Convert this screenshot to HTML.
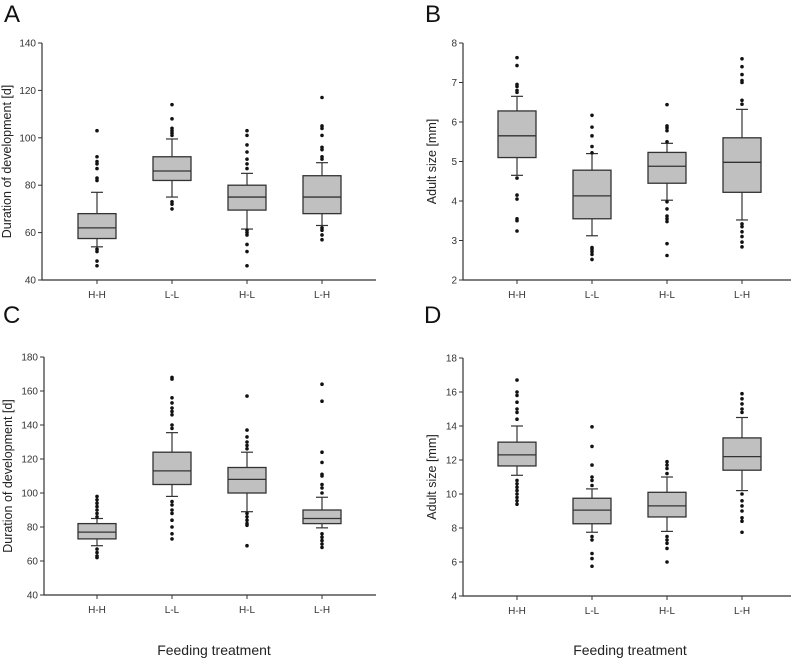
<!DOCTYPE html>
<html><head><meta charset="utf-8">
<style>
body{margin:0;background:#fff;}
svg{display:block;font-family:"Liberation Sans",Arial,sans-serif;}
</style></head>
<body>
<svg id="fig" width="796" height="663" viewBox="0 0 796 663" xmlns="http://www.w3.org/2000/svg">
<text x="4" y="22" font-size="24" fill="#111">A</text>
<text x="425" y="22" font-size="24" fill="#111">B</text>
<text x="3" y="323" font-size="24" fill="#111">C</text>
<text x="424" y="323" font-size="24" fill="#111">D</text>
<text x="214" y="655" font-size="14" text-anchor="middle" fill="#222">Feeding treatment</text>
<text x="630" y="655" font-size="14" text-anchor="middle" fill="#222">Feeding treatment</text>
</svg>
<script>
const categories = ["H-H","L-L","H-L","L-H"];
// [lowWhisker, q1, median, q3, highWhisker]
const statsA = [[54,57.5,62,68,77],[75,82,86,92,99.5],[61.5,69.5,75,80,85],[63,68,75,84,89.5]];
const outliersA = [[46,48,52,53,82,83,87,89,90,92,103],[70,72,73,101,102,103,104,108,114],[46,52,55,59,60,61,87,89,91,94,97,101,103],[57,59,61,62,91,92,95,96,101,104,105,117]];
const ticksA = [40,60,80,100,120,140];
const statsB = [[4.65,5.1,5.65,6.28,6.65],[3.12,3.55,4.13,4.78,5.2],[4.02,4.45,4.88,5.23,5.46],[3.52,4.22,4.98,5.6,6.32]];
const outliersB = [[3.24,3.5,3.55,4.05,4.15,4.58,6.75,6.8,6.9,6.95,7.43,7.63],[2.52,2.65,2.72,2.78,2.82,5.22,5.38,5.65,5.87,6.17],[2.62,2.92,3.48,3.55,3.62,3.8,3.98,5.5,5.78,5.85,5.9,6.44],[2.84,2.96,3.1,3.22,3.35,3.42,6.45,6.55,7.0,7.05,7.2,7.4,7.6]];
const ticksB = [2,3,4,5,6,7,8];
const statsC = [[69,73,77,82,85],[98,105,113,124,135.5],[89,100,108,115,124],[79.5,82,85,90,97.5]];
const outliersC = [[62,63,65,67,86,88,90,92,94,96,98],[73,76,80,84,88,90,93,95,138,140,146,148,150,153,156,167,168],[69,81,82,84,86,88,126,128,130,133,137,157],[68,70,72,74,76,100,103,105,110,111,118,124,154,164]];
const ticksC = [40,60,80,100,120,140,160,180];
const statsD = [[11.1,11.65,12.3,13.05,14.0],[7.75,8.25,9.05,9.75,10.3],[7.8,8.65,9.3,10.1,11.0],[10.2,11.4,12.2,13.3,14.5]];
const outliersD = [[9.4,9.6,9.8,10,10.2,10.4,10.6,10.8,14.4,14.8,15,15.4,15.8,16,16.7],[5.75,6.2,6.5,7.3,7.5,10.5,10.8,11,11.7,12.8,13.95],[6.0,6.8,7.1,7.3,7.5,11.2,11.5,11.7,11.9],[7.75,8.4,8.6,9.0,9.3,9.6,10,14.8,15,15.3,15.6,15.9]];
const ticksD = [4,6,8,10,12,14,16,18];

const NS="http://www.w3.org/2000/svg";
const svg=document.getElementById('fig');
function mk(tag,attrs,parent){const e=document.createElementNS(NS,tag);for(const k in attrs)e.setAttribute(k,attrs[k]);(parent||svg).appendChild(e);return e;}

function panel(id,x0,x1,yt,yb,firstCat,stats,outs,ticks,title,titleX){
  const g=mk('g',{});
  
  
  const lo=ticks[0],hi=ticks[ticks.length-1];
  const y=v=>yb-(v-lo)/(hi-lo)*(yb-yt);
  const xOf=i=>firstCat+i*75;
  const ax=mk('path',{d:`M${x0} ${yt}V${yb}H${x1}`,stroke:'#333','stroke-width':1.2,fill:'none'},g);
  
  
  ticks.forEach(t=>{
    mk('line',{x1:x0-4,x2:x0,y1:y(t),y2:y(t),stroke:'#333'},g);
    const tx=mk('text',{x:x0-6,y:y(t)+3.5,'font-size':10,'text-anchor':'end',fill:'#333'},g);
    tx.textContent=t;
    
    
  });
  const tt=mk('text',{transform:`translate(${titleX},${(yt+yb)/2}) rotate(-90)`,'font-size':12.5,'text-anchor':'middle',fill:'#222'},g);
  tt.textContent=title;
  
  
  categories.forEach((c,i)=>{
    const cx=xOf(i);
    mk('line',{x1:cx,x2:cx,y1:yb,y2:yb+4,stroke:'#333'},g);
    const lt=mk('text',{x:cx,y:yb+18,'font-size':10,'text-anchor':'middle',fill:'#333'},g);
    lt.textContent=c;
    
    
    const s=stats[i];
    mk('line',{x1:cx,x2:cx,y1:y(s[0]),y2:y(s[1]),stroke:'#333','stroke-width':1.2},g);
    mk('line',{x1:cx,x2:cx,y1:y(s[3]),y2:y(s[4]),stroke:'#333','stroke-width':1.2},g);
    mk('line',{x1:cx-6,x2:cx+6,y1:y(s[0]),y2:y(s[0]),stroke:'#333','stroke-width':1.2},g);
    mk('line',{x1:cx-6,x2:cx+6,y1:y(s[4]),y2:y(s[4]),stroke:'#333','stroke-width':1.2},g);
    const box=mk('rect',{x:cx-19,y:y(s[3]),width:38,height:y(s[1])-y(s[3]),fill:'#c0c0c0',stroke:'#333','stroke-width':1.3},g);
    
    
    mk('line',{x1:cx-19,x2:cx+19,y1:y(s[2]),y2:y(s[2]),stroke:'#333','stroke-width':1.3},g);
    outs[i].forEach(v=>{
      const d=mk('circle',{cx:cx,cy:y(v),r:1.8,fill:'#111'},g);
      
      
    });
  });
}
panel('a',42,376,43,280,97,statsA,outliersA,ticksA,'Duration of development [d]',11);
panel('b',463,791,43,280,517,statsB,outliersB,ticksB,'Adult size [mm]',436);
panel('c',44,376,357,595,97,statsC,outliersC,ticksC,'Duration of development [d]',12);
panel('d',463,791,358,596,517,statsD,outliersD,ticksD,'Adult size [mm]',436);
</script>
</body></html>
